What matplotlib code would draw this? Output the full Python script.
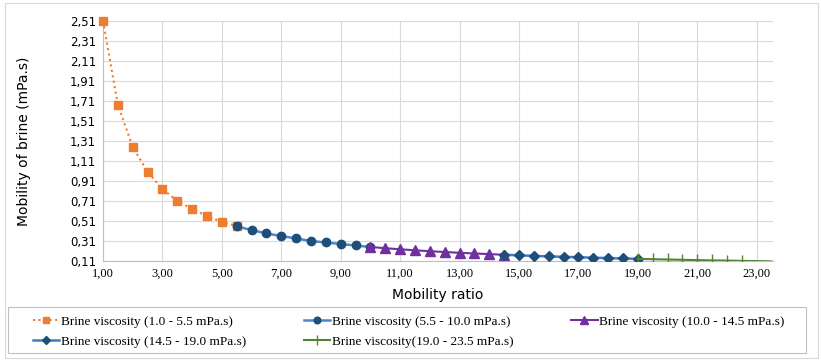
import matplotlib.pyplot as plt
from matplotlib.patches import Rectangle
from matplotlib.ticker import FuncFormatter

# mobility ratio / mobility of brine
x1 = [1.0, 1.5, 2.0, 2.5, 3.0, 3.5, 4.0, 4.5, 5.0, 5.5]
y1 = [2.51, 1.67, 1.25, 1.00, 0.83, 0.71, 0.63, 0.56, 0.50, 0.46]

x2 = [5.5, 6.0, 6.5, 7.0, 7.5, 8.0, 8.5, 9.0, 9.5, 10.0]
y2 = [0.455, 0.42, 0.385, 0.36, 0.335, 0.31, 0.295, 0.28, 0.265, 0.25]

x3 = [10.0, 10.5, 11.0, 11.5, 12.0, 12.5, 13.0, 13.5, 14.0, 14.5]
y3 = [0.25, 0.238, 0.227, 0.217, 0.208, 0.2, 0.192, 0.185, 0.179, 0.172]

x4 = [14.5, 15.0, 15.5, 16.0, 16.5, 17.0, 17.5, 18.0, 18.5, 19.0]
y4 = [0.172, 0.167, 0.161, 0.156, 0.152, 0.147, 0.143, 0.139, 0.135, 0.132]

x5 = [19.0, 19.5, 20.0, 20.5, 21.0, 21.5, 22.0, 22.5, 23.0, 23.5]
y5 = [0.132, 0.128, 0.125, 0.122, 0.119, 0.116, 0.114, 0.111, 0.109, 0.106]

labels = ["Brine viscosity (1.0 - 5.5 mPa.s)",
          "Brine viscosity (5.5 - 10.0 mPa.s)",
          "Brine viscosity (10.0 - 14.5 mPa.s)",
          "Brine viscosity (14.5 - 19.0 mPa.s)",
          "Brine viscosity(19.0 - 23.5 mPa.s)"]

xticks = [1, 3, 5, 7, 9, 11, 13, 15, 17, 19, 21, 23]
yticks = [0.11, 0.31, 0.51, 0.71, 0.91, 1.11, 1.31, 1.51, 1.71, 1.91, 2.11, 2.31, 2.51]

serif = "Liberation Serif"

fig = plt.figure(figsize=(8.21, 3.6), dpi=100)
ax = fig.add_axes([0.1255, 0.275, 0.816, 0.667])

h = []
h += ax.plot(x1, y1, color="#ED7D31", ls=":", lw=1.5, marker="s", ms=6,
             mfc="#ED7D31", mec="#ED7D31", zorder=3, clip_on=False)
h += ax.plot(x2, y2, color="#4A86D4", lw=1.8, marker="o", ms=6,
             mfc="#1F4E79", mec="#1F4E79", zorder=3)
h += ax.plot(x3, y3, color="#7030A0", lw=1.5, marker="^", ms=7,
             mfc="#7030A0", mec="#7030A0", zorder=3)
h += ax.plot(x4, y4, color="#3A7CCB", lw=1.8, marker="D", ms=5.5,
             mfc="#1F4E79", mec="#1F4E79", zorder=3)
h += ax.plot(x5, y5, color="#548235", lw=1.5, marker="|", ms=9, mew=1.0,
             markevery=slice(0, 8), zorder=3)

ax.set_xlim(1, 23.55)
ax.set_ylim(0.11, 2.51)
ax.set_xticks(xticks)
ax.set_yticks(yticks)
comma = FuncFormatter(lambda v, p: f"{v:.2f}".replace(".", ","))
ax.xaxis.set_major_formatter(comma)
ax.yaxis.set_major_formatter(comma)

ax.grid(True, color="#D9D9D9", lw=0.8, zorder=0)
for s in ["top", "right"]:
    ax.spines[s].set_visible(False)
for s in ["left", "bottom"]:
    ax.spines[s].set_color("#BFBFBF")
ax.tick_params(axis="both", length=0, pad=5)
for t in ax.get_xticklabels():
    t.set_fontfamily(serif)
    t.set_fontsize(9)
for t in ax.get_yticklabels():
    t.set_fontsize(8.5)

ax.set_xlabel("Mobility ratio", fontsize=10, labelpad=6)
ax.set_ylabel("Mobility of brine (mPa.s)", fontsize=10, labelpad=28)

# legend filled row by row, as in the original
order = [0, 3, 1, 4, 2]
leg = fig.legend([h[i] for i in order], [labels[i] for i in order],
                 loc="upper left", bbox_to_anchor=(0.040, 0.123), ncol=3,
                 prop={"family": serif, "size": 9.5}, frameon=False,
                 handlelength=2.0, handletextpad=0.1, borderaxespad=0,
                 borderpad=0, columnspacing=4.4, labelspacing=0.6,
                 markerscale=0.8)

fig.patches.append(Rectangle((8 / 821, 7 / 360), 798 / 821, 46 / 360,
                             transform=fig.transFigure, fill=False,
                             edgecolor="#BFBFBF", lw=0.8))
fig.patches.append(Rectangle((0.006, 0.006), 0.99, 0.985, transform=fig.transFigure,
                             fill=False, edgecolor="#D9D9D9", lw=0.8))

fig.savefig("out.png", dpi=100)
